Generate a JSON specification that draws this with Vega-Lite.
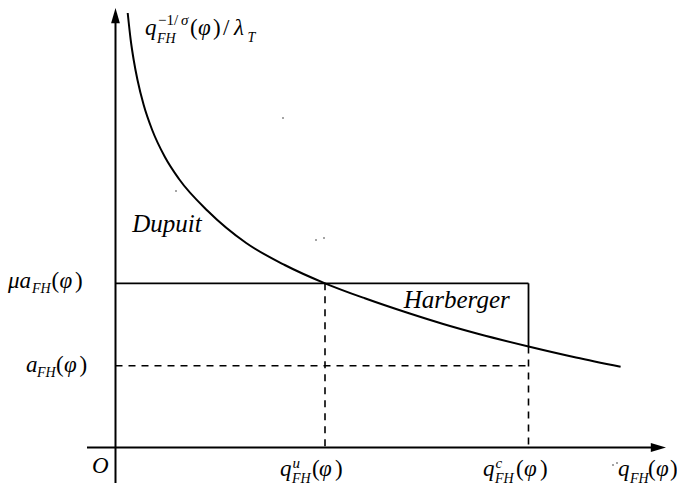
{
  "$schema": "https://vega.github.io/schema/vega-lite/v6.json",
  "width": 677,
  "height": 486,
  "autosize": {"type": "none"},
  "padding": 0,
  "background": "white",
  "config": {"view": {"stroke": null}},
  "datasets": {
    "curve": [
      {"q": 1.22, "p": 43.45}, {"q": 1.52, "p": 40.75}, {"q": 1.82, "p": 38.75}, {"q": 2.2, "p": 36.75},
      {"q": 2.82, "p": 34.25}, {"q": 3.67, "p": 31.75}, {"q": 4.94, "p": 29.05}, {"q": 6.35, "p": 26.85},
      {"q": 9.23, "p": 23.65}, {"q": 13.07, "p": 20.45}, {"q": 16.92, "p": 18.25}, {"q": 20.95, "p": 16.42},
      {"q": 24.93, "p": 14.92}, {"q": 29.35, "p": 13.42}, {"q": 32.77, "p": 12.35}, {"q": 36.32, "p": 11.35},
      {"q": 41.3, "p": 10.1}, {"q": 46.05, "p": 9.0}, {"q": 50.51, "p": 8.07}
    ],
    "axes": [
      {"x": 0, "y": -3.55, "x2": 0, "y2": 43.0},
      {"x": -2.85, "y": 0, "x2": 54.3, "y2": 0}
    ],
    "solid": [
      {"x": 0, "y": 16.42, "x2": 41.3, "y2": 16.42},
      {"x": 41.3, "y": 16.42, "x2": 41.3, "y2": 10.1}
    ],
    "dashed": [
      {"x": 20.95, "y": 16.42, "x2": 20.95, "y2": 0},
      {"x": 41.3, "y": 10.1, "x2": 41.3, "y2": 0},
      {"x": 0, "y": 8.18, "x2": 41.3, "y2": 8.18}
    ],
    "arrowUp": [{"x": 0, "y": 43.15}],
    "arrowRight": [{"x": 54.25, "y": 0}],
    "mainIt": [
      {"x": 2.95, "y": 41.25, "t": "q"}, {"x": 8.25, "y": 41.25, "t": "φ"}, {"x": 11.85, "y": 41.25, "t": "λ"},
      {"x": -10.75, "y": 15.95, "t": "μa"}, {"x": -5.6, "y": 15.95, "t": "φ"},
      {"x": -8.95, "y": 7.55, "t": "a"}, {"x": -5.15, "y": 7.55, "t": "φ"},
      {"x": 16.45, "y": -2.85, "t": "q"}, {"x": 20.35, "y": -2.85, "t": "φ"},
      {"x": 36.75, "y": -2.85, "t": "q"}, {"x": 40.85, "y": -2.85, "t": "φ"},
      {"x": 50.25, "y": -2.85, "t": "q"}, {"x": 54.05, "y": -2.85, "t": "φ"},
      {"x": -2.35, "y": -2.55, "t": "O"}
    ],
    "mainUp": [
      {"x": 7.45, "y": 41.25, "t": "("}, {"x": 9.75, "y": 41.25, "t": ")"}, {"x": 10.75, "y": 41.25, "t": "/"},
      {"x": -6.4, "y": 15.95, "t": "("}, {"x": -4.05, "y": 15.95, "t": ")"},
      {"x": -5.95, "y": 7.55, "t": "("}, {"x": -3.6, "y": 7.55, "t": ")"},
      {"x": 19.65, "y": -2.85, "t": "("}, {"x": 21.95, "y": -2.85, "t": ")"},
      {"x": 40.05, "y": -2.85, "t": "("}, {"x": 42.45, "y": -2.85, "t": ")"},
      {"x": 53.25, "y": -2.85, "t": "("}, {"x": 55.45, "y": -2.85, "t": ")"}
    ],
    "subIt": [
      {"x": 4.15, "y": 40.45, "t": "FH"}, {"x": 13.2, "y": 40.55, "t": "T"},
      {"x": -8.35, "y": 15.5, "t": "FH"},
      {"x": -7.85, "y": 7.1, "t": "FH"},
      {"x": 17.65, "y": -3.5, "t": "FH"},
      {"x": 37.95, "y": -3.5, "t": "FH"},
      {"x": 51.45, "y": -3.5, "t": "FH"}
    ],
    "supUp": [{"x": 4.25, "y": 42.25, "t": "−1/"}],
    "supIt": [
      {"x": 6.55, "y": 42.25, "t": "σ"},
      {"x": 17.7, "y": -2.0, "t": "u"},
      {"x": 38.0, "y": -2.0, "t": "c"}
    ],
    "words": [
      {"x": 5.15, "y": 21.58, "t": "Dupuit"},
      {"x": 34.12, "y": 13.92, "t": "Harberger"}
    ],
    "specks": [
      {"x": 16.75, "y": 32.95}, {"x": 6.05, "y": 25.65}, {"x": 20.05, "y": 20.75},
      {"x": 20.85, "y": 20.95}, {"x": 49.75, "y": -1.75}, {"x": 50.15, "y": -1.55}
    ]
  },
  "layer": [
    {
      "data": {"name": "dashed"},
      "mark": {"type": "rule", "color": "black", "strokeWidth": 1.6, "strokeDash": [7, 6]},
      "encoding": {
        "x": {"field": "x", "type": "quantitative", "scale": {"domain": [-11.55, 56.15], "nice": false, "zero": false}, "axis": null},
        "y": {"field": "y", "type": "quantitative", "scale": {"domain": [-3.85, 44.75], "nice": false, "zero": false}, "axis": null},
        "x2": {"field": "x2"},
        "y2": {"field": "y2"}
      }
    },
    {
      "data": {"name": "solid"},
      "mark": {"type": "rule", "color": "black", "strokeWidth": 1.8},
      "encoding": {
        "x": {"field": "x", "type": "quantitative", "scale": {"domain": [-11.55, 56.15], "nice": false, "zero": false}, "axis": null},
        "y": {"field": "y", "type": "quantitative", "scale": {"domain": [-3.85, 44.75], "nice": false, "zero": false}, "axis": null},
        "x2": {"field": "x2"},
        "y2": {"field": "y2"}
      }
    },
    {
      "data": {"name": "axes"},
      "mark": {"type": "rule", "color": "black", "strokeWidth": 2},
      "encoding": {
        "x": {"field": "x", "type": "quantitative", "scale": {"domain": [-11.55, 56.15], "nice": false, "zero": false}, "axis": null},
        "y": {"field": "y", "type": "quantitative", "scale": {"domain": [-3.85, 44.75], "nice": false, "zero": false}, "axis": null},
        "x2": {"field": "x2"},
        "y2": {"field": "y2"}
      }
    },
    {
      "data": {"name": "curve"},
      "mark": {"type": "line", "color": "black", "strokeWidth": 2, "interpolate": "monotone"},
      "encoding": {
        "x": {"field": "q", "type": "quantitative", "scale": {"domain": [-11.55, 56.15], "nice": false, "zero": false}, "axis": null},
        "y": {"field": "p", "type": "quantitative", "scale": {"domain": [-3.85, 44.75], "nice": false, "zero": false}, "axis": null}
      }
    },
    {
      "data": {"name": "arrowUp"},
      "mark": {"type": "point", "shape": "M0,-1L0.55,0.9L-0.55,0.9Z", "size": 256, "filled": true, "color": "black", "opacity": 1, "strokeWidth": 0},
      "encoding": {
        "x": {"field": "x", "type": "quantitative", "scale": {"domain": [-11.55, 56.15], "nice": false, "zero": false}, "axis": null},
        "y": {"field": "y", "type": "quantitative", "scale": {"domain": [-3.85, 44.75], "nice": false, "zero": false}, "axis": null}
      }
    },
    {
      "data": {"name": "arrowRight"},
      "mark": {"type": "point", "shape": "M1,0L-0.9,0.55L-0.9,-0.55Z", "size": 256, "filled": true, "color": "black", "opacity": 1, "strokeWidth": 0},
      "encoding": {
        "x": {"field": "x", "type": "quantitative", "scale": {"domain": [-11.55, 56.15], "nice": false, "zero": false}, "axis": null},
        "y": {"field": "y", "type": "quantitative", "scale": {"domain": [-3.85, 44.75], "nice": false, "zero": false}, "axis": null}
      }
    },
    {
      "data": {"name": "specks"},
      "mark": {"type": "point", "shape": "square", "size": 2, "filled": true, "color": "#555555", "opacity": 1, "strokeWidth": 0},
      "encoding": {
        "x": {"field": "x", "type": "quantitative", "scale": {"domain": [-11.55, 56.15], "nice": false, "zero": false}, "axis": null},
        "y": {"field": "y", "type": "quantitative", "scale": {"domain": [-3.85, 44.75], "nice": false, "zero": false}, "axis": null}
      }
    },
    {
      "data": {"name": "mainIt"},
      "mark": {"type": "text", "align": "left", "baseline": "alphabetic", "font": "Liberation Serif", "fontStyle": "italic", "fontSize": 23, "color": "black"},
      "encoding": {
        "x": {"field": "x", "type": "quantitative", "scale": {"domain": [-11.55, 56.15], "nice": false, "zero": false}, "axis": null},
        "y": {"field": "y", "type": "quantitative", "scale": {"domain": [-3.85, 44.75], "nice": false, "zero": false}, "axis": null},
        "text": {"field": "t"}
      }
    },
    {
      "data": {"name": "mainUp"},
      "mark": {"type": "text", "align": "left", "baseline": "alphabetic", "font": "Liberation Serif", "fontSize": 23, "color": "black"},
      "encoding": {
        "x": {"field": "x", "type": "quantitative", "scale": {"domain": [-11.55, 56.15], "nice": false, "zero": false}, "axis": null},
        "y": {"field": "y", "type": "quantitative", "scale": {"domain": [-3.85, 44.75], "nice": false, "zero": false}, "axis": null},
        "text": {"field": "t"}
      }
    },
    {
      "data": {"name": "subIt"},
      "mark": {"type": "text", "align": "left", "baseline": "alphabetic", "font": "Liberation Serif", "fontStyle": "italic", "fontSize": 14, "color": "black"},
      "encoding": {
        "x": {"field": "x", "type": "quantitative", "scale": {"domain": [-11.55, 56.15], "nice": false, "zero": false}, "axis": null},
        "y": {"field": "y", "type": "quantitative", "scale": {"domain": [-3.85, 44.75], "nice": false, "zero": false}, "axis": null},
        "text": {"field": "t"}
      }
    },
    {
      "data": {"name": "supUp"},
      "mark": {"type": "text", "align": "left", "baseline": "alphabetic", "font": "Liberation Serif", "fontSize": 15, "color": "black"},
      "encoding": {
        "x": {"field": "x", "type": "quantitative", "scale": {"domain": [-11.55, 56.15], "nice": false, "zero": false}, "axis": null},
        "y": {"field": "y", "type": "quantitative", "scale": {"domain": [-3.85, 44.75], "nice": false, "zero": false}, "axis": null},
        "text": {"field": "t"}
      }
    },
    {
      "data": {"name": "supIt"},
      "mark": {"type": "text", "align": "left", "baseline": "alphabetic", "font": "Liberation Serif", "fontStyle": "italic", "fontSize": 15, "color": "black"},
      "encoding": {
        "x": {"field": "x", "type": "quantitative", "scale": {"domain": [-11.55, 56.15], "nice": false, "zero": false}, "axis": null},
        "y": {"field": "y", "type": "quantitative", "scale": {"domain": [-3.85, 44.75], "nice": false, "zero": false}, "axis": null},
        "text": {"field": "t"}
      }
    },
    {
      "data": {"name": "words"},
      "mark": {"type": "text", "align": "center", "baseline": "alphabetic", "font": "Liberation Serif", "fontStyle": "italic", "fontSize": 25, "color": "black"},
      "encoding": {
        "x": {"field": "x", "type": "quantitative", "scale": {"domain": [-11.55, 56.15], "nice": false, "zero": false}, "axis": null},
        "y": {"field": "y", "type": "quantitative", "scale": {"domain": [-3.85, 44.75], "nice": false, "zero": false}, "axis": null},
        "text": {"field": "t"}
      }
    }
  ]
}
